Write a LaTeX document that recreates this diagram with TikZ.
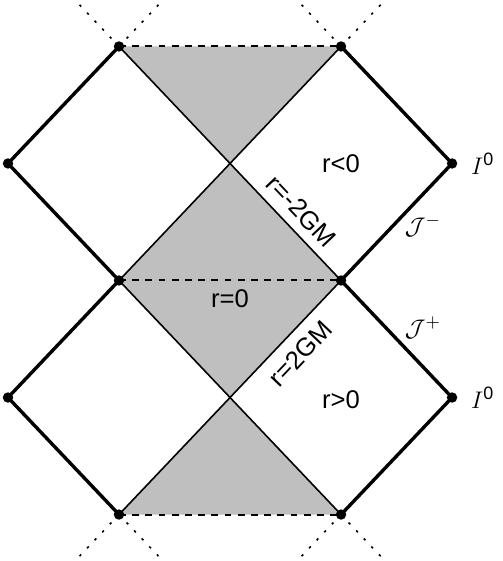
\documentclass[tikz,border=0pt]{standalone}
\usepackage{fontspec}
\setmainfont{Liberation Sans}
\usepackage{amsmath}
\usetikzlibrary{positioning}

\begin{document}
\begin{tikzpicture}[x=55.5pt,y=58.5pt,font=\fontsize{12.8}{15}\selectfont,
		bdry/.style={line width=1.7pt},
		horizon/.style={line width=0.8pt},
		sing/.style={line width=1pt,dash pattern=on 3.4pt off 3.2pt},
		ext/.style={line width=0.8pt,dash pattern=on 1.2pt off 4.3pt},
		region/.style={fill=black!25}]
		\useasboundingbox (-2.072,-2.397) rectangle (2.45,2.397);
		\clip (-2.072,-2.397) rectangle (2.45,2.397);
		\coordinate (tl) at (-1,2);
		\coordinate (tr) at (1,2);
		\coordinate (l1) at (-2,1);
		\coordinate (c1) at (0,1);
		\coordinate (r1) at (2,1);
		\coordinate (ml) at (-1,0);
		\coordinate (mr) at (1,0);
		\coordinate (l2) at (-2,-1);
		\coordinate (c2) at (0,-1);
		\coordinate (r2) at (2,-1);
		\coordinate (bl) at (-1,-2);
		\coordinate (br) at (1,-2);
		\fill[region] (tl) -- (tr) -- (c1) -- cycle;
		\fill[region] (c1) -- (mr) -- (c2) -- (ml) -- cycle;
		\fill[region] (bl) -- (br) -- (c2) -- cycle;
		\draw[horizon] (tl) -- (mr) node[pos=0.76, sloped, above=1.2pt] (hneg) {r=-2GM};
		\draw[horizon] (tr) -- (ml);
		\draw[horizon] (bl) -- (mr) node[pos=0.75, sloped, below=2.2pt] (hpos) {r=2GM};
		\draw[horizon] (br) -- (ml);
		\draw[bdry] (tl) -- (l1) -- (ml) -- (l2) -- (bl);
		\draw[bdry] (tr) -- (r1) -- (mr) node[midway, right, yshift=-2pt] (jminus) {$\mathcal{J}^-$}
			-- (r2) node[midway, right, yshift=5.5pt] (jplus) {$\mathcal{J}^+$} -- (br);
		\draw[sing] (tl) -- (tr);
		\draw[sing] (ml) -- (mr) node[midway, below=0.5pt] (rzero) {r=0};
		\draw[sing] (bl) -- (br);
		\foreach \p/\s in {tl/1, tr/1, bl/-1, br/-1}{
			\draw[ext] (\p) -- ++(-0.5,0.5*\s);
			\draw[ext] (\p) -- ++(0.5,0.5*\s);
		}
		\foreach \p in {tl,tr,l1,r1,ml,mr,l2,r2,bl,br}
			\fill (\p) circle (2.6pt);
		\node (rneg) at (1,1) {r<0};
		\node (rpos) at (1,-1.02) {r>0};
		\node[right=6pt of r1] (iup) {$I^{\text{0}}$};
		\node[right=6pt of r2] (idown) {$I^{\text{0}}$};
	\end{tikzpicture}
\end{document}
